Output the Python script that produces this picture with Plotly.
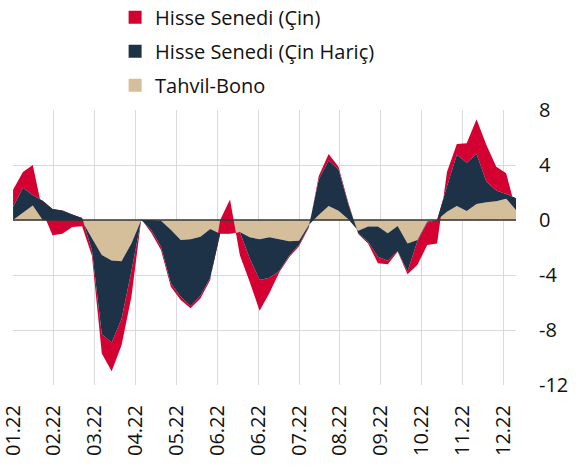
import numpy as np
import plotly.graph_objects as go

# Weekly observation dates (Fridays, 2022)
dates = ["2022-01-07","2022-01-14","2022-01-21","2022-01-28","2022-02-04","2022-02-11","2022-02-18","2022-02-25",
         "2022-03-04","2022-03-11","2022-03-18","2022-03-25","2022-04-01","2022-04-08","2022-04-15","2022-04-22",
         "2022-04-29","2022-05-06","2022-05-13","2022-05-20","2022-05-27","2022-06-03","2022-06-10","2022-06-17",
         "2022-06-24","2022-07-01","2022-07-08","2022-07-15","2022-07-22","2022-07-29","2022-08-05","2022-08-12",
         "2022-08-19","2022-08-26","2022-09-02","2022-09-09","2022-09-16","2022-09-23","2022-09-30","2022-10-07",
         "2022-10-14","2022-10-21","2022-10-28","2022-11-04","2022-11-11","2022-11-18","2022-11-25","2022-12-02",
         "2022-12-09","2022-12-16","2022-12-23","2022-12-30"]

tahvil_bono = [0, 0.5, 1.05, 0, 0, 0, 0, -0.05, -1.33, -2.55, -2.95, -3.0, -1.7, 0, 0, -0.05,
               -0.7, -1.45, -1.4, -1.22, -0.65, -1.0, -1.0, -0.87, -1.26, -1.4, -1.25, -1.4, -1.55, -1.5,
               -0.35, 0.36, 1.02, 0.68, 0.05, -0.78, -0.48, -0.48, -0.97, -0.44, -1.7, -1.45, -0.1, 0,
               0.6, 1.02, 0.65, 1.16, 1.3, 1.37, 1.55, 0.73]
hisse_cin_haric = [0.95, 1.85, 0.75, 1.4, 0.8, 0.7, 0.4, 0.2, -0.87, -5.75, -5.95, -4.2, -2.0, 0, -0.7, -1.89,
                   -3.9, -4.13, -4.85, -4.28, -3.55, 0, 0, 0, -1.54, -2.96, -2.95, -2.3, -1.05, -0.3,
                   -0.1, 2.59, 3.3, 3.0, 1.1, -0.19, -1.1, -2.19, -1.99, -1.81, -2.05, -0.1, -0.09, 0,
                   1.85, 3.73, 3.52, 3.64, 1.49, 0.78, 0.35, 0.85]
hisse_cin = [1.25, 1.15, 2.2, -0.8, -1.9, -1.7, -0.9, -0.6, -0.4, -1.4, -2.1, -1.9, -1.9, 0.05, -0.2, -0.24,
             -0.25, -0.24, -0.17, -0.2, -0.15, 1.0, 2.5, -1.7, -1.7, -2.24, -1.1, -0.1, -0.1, -0.1,
             -0.1, 0.25, 0.48, 0.2, 0.1, -0.05, -0.12, -0.48, -0.26, -0.05, -0.2, -1.72, -1.63, -1.7,
             1.05, 0.78, 1.41, 2.52, 2.66, 1.73, 1.5, -0.88]

tick_dates = ["2022-01-07","2022-02-05","2022-03-06","2022-04-04","2022-05-03","2022-06-01","2022-06-30",
              "2022-07-29","2022-08-27","2022-09-25","2022-10-24","2022-11-22","2022-12-21"]
tick_labels = ["01.22","02.22","03.22","04.22","05.22","06.22","06.22","07.22","08.22","09.22","10.22","11.22","12.22"]
y_ticks = [-12, -8, -4, 0, 4, 8]
y_labels = ["-12", "-8", "-4", "0", "4", "8"]

names = ["Hisse Senedi (Çin)", "Hisse Senedi (Çin Hariç)", "Tahvil-Bono"]
RED, NAVY, TAN = "#D50032", "#1E3247", "#D5BF9B"

# cumulative stack levels (tan at the bottom, then ex-China equities, then China equities)
c1 = np.array(tahvil_bono)
c2 = c1 + np.array(hisse_cin_haric)
c3 = c2 + np.array(hisse_cin)

fig = go.Figure()
common = dict(x=dates, mode="lines", line=dict(width=0), hoverinfo="skip", showlegend=False)
# tan layer (back)
fig.add_trace(go.Scatter(y=c1, fill="tozeroy", fillcolor=TAN, **common))
# red layer between c2 and c3
fig.add_trace(go.Scatter(y=c2, **common))
fig.add_trace(go.Scatter(y=c3, fill="tonexty", fillcolor=RED, **common))
# navy layer between c1 and c2 (front)
fig.add_trace(go.Scatter(y=c1, **common))
fig.add_trace(go.Scatter(y=c2, fill="tonexty", fillcolor=NAVY, **common))

# legend entries
for i, (nm, col) in enumerate(zip(names, [RED, NAVY, TAN])):
    fig.add_trace(go.Scatter(x=[None], y=[None], mode="markers", name=nm,
                             marker=dict(symbol="square", size=13, color=col),
                             legendgroup=str(i), showlegend=True))

fig.add_shape(type="line", xref="paper", x0=0, x1=1, yref="y", y0=0, y1=0,
              line=dict(color="#333333", width=1.3), layer="above")

fig.update_layout(
    width=587, height=471,
    margin=dict(l=13, r=71, t=110, b=86, autoexpand=False),
    paper_bgcolor="white", plot_bgcolor="white",
    font=dict(family="Open Sans", size=20, color="#111111"),
    legend=dict(x=0.203, xanchor="left", y=1.408, yanchor="top",
                bgcolor="rgba(0,0,0,0)", font=dict(size=20),
                itemwidth=30, tracegroupgap=5),
    xaxis=dict(range=["2022-01-06 23:00", "2022-12-30"], tickvals=tick_dates, ticktext=tick_labels,
               tickangle=-90, showgrid=True, gridcolor="#d9d9d9", gridwidth=1.3,
               zeroline=False, showline=False, ticks="", ticklabeloverflow="allow",
               automargin=False, ticklabelstandoff=15),
    yaxis=dict(range=[-12, 8], tickvals=y_ticks, ticktext=y_labels, side="right", showgrid=True,
               gridcolor="#d9d9d9", gridwidth=1.3, zeroline=False, showline=False,
               ticks="", ticklabelstandoff=22, automargin=False),
)

fig.write_html("out.html", config={"displayModeBar": False},
               post_script="document.body.style.margin='0px';")
